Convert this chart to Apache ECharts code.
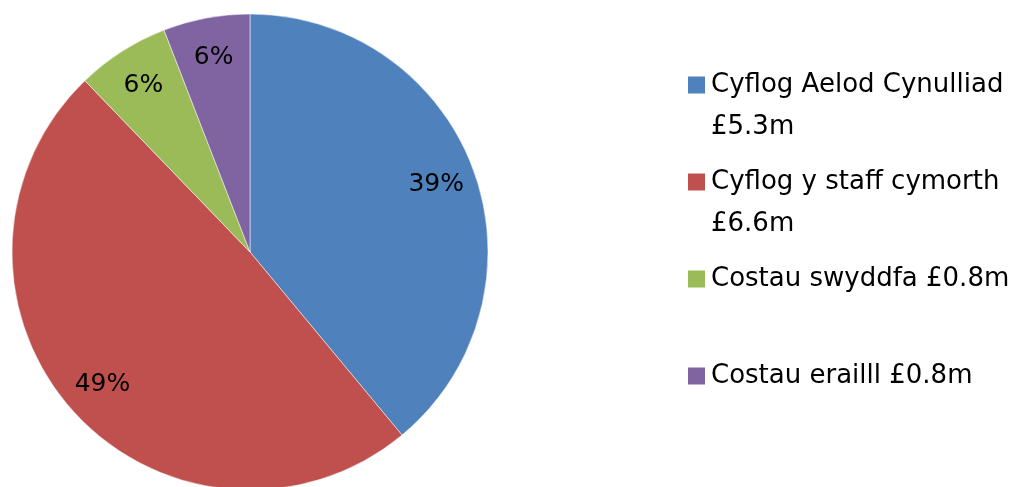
<!DOCTYPE html>
<html>
<head>
<meta charset="utf-8">
<script src="https://cdn.jsdelivr.net/npm/echarts@6/dist/echarts.min.js"></script>
<style>
html,body{margin:0;padding:0;background:#fff;}
#chart{width:1011px;height:487px;}
</style>
</head>
<body>
<div id="chart"></div>
<script>
// Data
var categories = ['Cyflog Aelod Cynulliad', 'Cyflog y staff cymorth', 'Costau swyddfa', 'Costau erailll'];
var legendLabels = ['Cyflog Aelod Cynulliad\n£5.3m', 'Cyflog y staff cymorth\n£6.6m', 'Costau swyddfa £0.8m', 'Costau erailll £0.8m'];
// slice sizes (£m)
var values = [5.3, 6.64, 0.86, 0.8];
var colors = ['#4F81BD', '#C0504D', '#9BBB59', '#8064A2'];

var pieData = categories.map(function (c, i) {
  return { name: c, value: values[i], itemStyle: { color: colors[i] } };
});
var labelData = categories.map(function (c, i) {
  return { name: c, value: values[i] };
});
var legendMap = {};
categories.forEach(function (c, i) {
  // pad to 3 lines so the marker aligns with the first text line
  var parts = legendLabels[i].split('\n');
  legendMap[c] = '\u200b\n' + parts[0] + '\n' + (parts[1] || '\u200b');
});

var font = 'DejaVu Sans';
var chart = echarts.init(document.getElementById('chart'), null, { renderer: 'canvas' });
chart.setOption({
  animation: false,
  backgroundColor: '#ffffff',
  legend: {
    orient: 'vertical',
    left: 686,
    top: 22,
    padding: 0,
    itemGap: -29,
    itemWidth: 19,
    itemHeight: 19,
    icon: 'rect',
    selectedMode: false,
    data: categories,
    formatter: function (name) { return legendMap[name]; },
    textStyle: {
      fontFamily: font,
      fontSize: 26,
      lineHeight: 42,
      color: '#000'
    }
  },
  series: [
    {
      type: 'pie',
      center: [250, 252],
      radius: [0, 238],
      startAngle: 90,
      clockwise: true,
      silent: true,
      label: { show: false },
      labelLine: { show: false },
      itemStyle: { borderColor: '#ffffff', borderWidth: 0.5 },
      emphasis: { disabled: true },
      data: pieData
    },
    {
      type: 'pie',
      center: [250, 252],
      radius: [152, 238],
      startAngle: 90,
      clockwise: true,
      silent: true,
      legendHoverLink: false,
      percentPrecision: 0,
      itemStyle: { color: 'rgba(0,0,0,0)', borderWidth: 0 },
      emphasis: { disabled: true },
      labelLine: { show: false },
      label: {
        show: true,
        position: 'inside',
        formatter: '{d}%',
        fontFamily: font,
        fontSize: 25,
        color: '#000'
      },
      data: labelData
    }
  ]
});
</script>
</body>
</html>
